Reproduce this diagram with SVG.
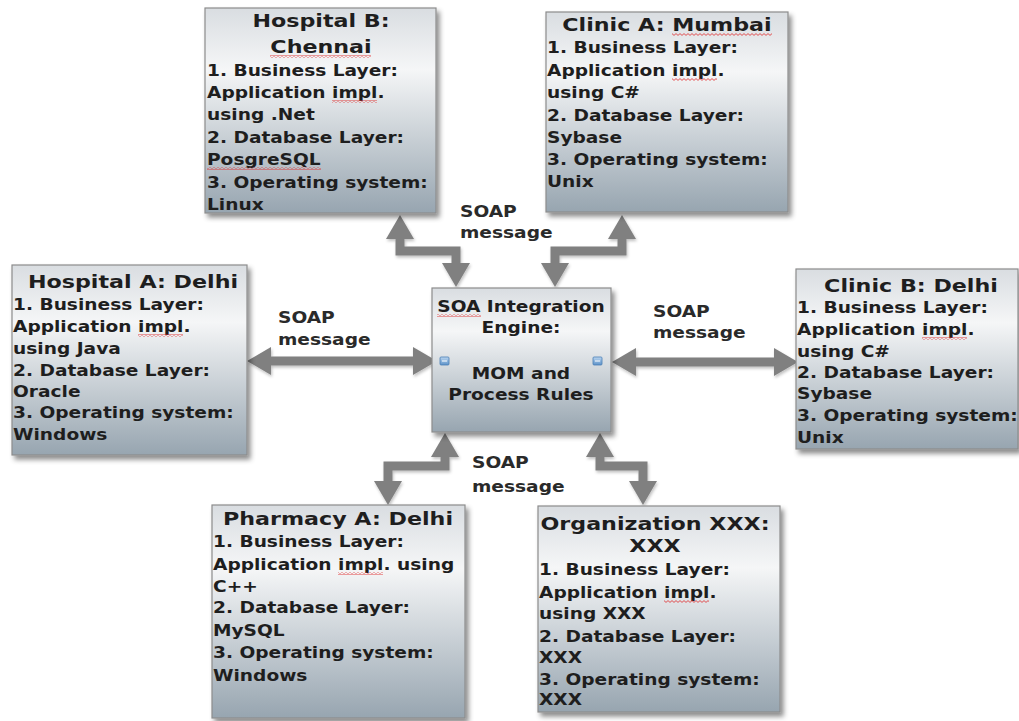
<svg xmlns="http://www.w3.org/2000/svg" width="1019" height="721" viewBox="0 0 1019 721">
<defs>
<style>
.box{fill:url(#bg);stroke:#8c8c8c;stroke-width:1.2;filter:url(#sh)}
.tt{font-family:"DejaVu Sans",Verdana,sans-serif;font-weight:bold;font-size:18.5px;fill:#1e1e1e;text-anchor:middle}
.bd{font-family:"DejaVu Sans",Verdana,sans-serif;font-weight:bold;font-size:15.5px;fill:#1e1e1e}
.lbl{font-family:"DejaVu Sans",Verdana,sans-serif;font-weight:bold;font-size:15.5px;fill:#2a2a2a}
.con{fill:none;stroke:#808080;stroke-width:9;stroke-linejoin:miter;marker-start:url(#ah);marker-end:url(#ah)}
.sq{fill:url(#sqp)}
.pin{fill:url(#pg);stroke:#4a7fb5;stroke-width:0.8}
</style>
<linearGradient id="bg" x1="0" y1="0" x2="0" y2="1">
<stop offset="0" stop-color="#d9dde1"/>
<stop offset="0.3" stop-color="#f5f6f7"/>
<stop offset="1" stop-color="#97a5b0"/>
</linearGradient>
<linearGradient id="pg" x1="0" y1="0" x2="0" y2="1">
<stop offset="0" stop-color="#bcd6f0"/>
<stop offset="1" stop-color="#5d92c9"/>
</linearGradient>
<filter id="sh" x="-10%" y="-10%" width="125%" height="125%">
<feGaussianBlur in="SourceAlpha" stdDeviation="2.5"/>
<feOffset dx="3" dy="4" result="b"/>
<feFlood flood-color="#000" flood-opacity="0.45"/>
<feComposite in2="b" operator="in"/>
<feMerge><feMergeNode/><feMergeNode in="SourceGraphic"/></feMerge>
</filter>
<filter id="csh" filterUnits="userSpaceOnUse" x="0" y="0" width="1019" height="721">
<feGaussianBlur in="SourceAlpha" stdDeviation="1.5"/>
<feOffset dx="1" dy="2" result="b"/>
<feFlood flood-color="#000" flood-opacity="0.25"/>
<feComposite in2="b" operator="in"/>
<feMerge><feMergeNode/><feMergeNode in="SourceGraphic"/></feMerge>
</filter>
<marker id="ah" markerUnits="userSpaceOnUse" markerWidth="24" markerHeight="28" viewBox="0 0 24 28" refX="0" refY="14" orient="auto-start-reverse">
<path d="M0,0 L24,14 L0,28 Z" fill="#808080"/>
</marker>
<pattern id="sqp" width="4" height="3" patternUnits="userSpaceOnUse">
<path d="M0,0.6 L2,2.4 L4,0.6" fill="none" stroke="#e02828" stroke-width="0.8"/>
</pattern>
</defs>
<rect width="1019" height="721" fill="#ffffff"/>

<g id="connectors" filter="url(#csh)">
<path class="con" d="M400,239 V251 H456 V263"/>
<path class="con" d="M622,239 V251 H555 V263"/>
<path class="con" d="M271,361 H413"/>
<path class="con" d="M636,362 H774"/>
<path class="con" d="M445,457 V466 H388 V481"/>
<path class="con" d="M600,457 V466 H643 V481"/>
</g>

<g id="labels">
<g transform="translate(460 0) scale(1.2 1)"><text class="lbl"><tspan x="0" y="217">SOAP</tspan><tspan x="0" y="238">message</tspan></text></g>
<g transform="translate(278 0) scale(1.2 1)"><text class="lbl"><tspan x="0" y="323">SOAP</tspan><tspan x="0" y="345">message</tspan></text></g>
<g transform="translate(653 0) scale(1.2 1)"><text class="lbl"><tspan x="0" y="317">SOAP</tspan><tspan x="0" y="338">message</tspan></text></g>
<g transform="translate(472 0) scale(1.2 1)"><text class="lbl"><tspan x="0" y="468">SOAP</tspan><tspan x="0" y="492">message</tspan></text></g>
</g>

<g id="hospital-b">
<rect class="box" x="205" y="8" width="231" height="205"/>
<g transform="translate(321 0) scale(1.2 1)"><text class="tt"><tspan x="0" y="27">Hospital B:</tspan><tspan x="0" y="53">Chennai</tspan></text></g>
<g transform="translate(207 0) scale(1.2 1)"><text class="bd"><tspan x="0" y="76">1. Business Layer:</tspan><tspan x="0" y="98">Application impl.</tspan><tspan x="0" y="120">using .Net</tspan><tspan x="0" y="143">2. Database Layer:</tspan><tspan x="0" y="165">PosgreSQL</tspan><tspan x="0" y="188">3. Operating system:</tspan><tspan x="0" y="210">Linux</tspan></text></g>
<rect class="sq" x="270" y="55" width="101" height="3"/>
<rect class="sq" x="332" y="100" width="45" height="3"/>
<rect class="sq" x="207" y="167" width="114" height="3"/>
</g>

<g id="clinic-a">
<rect class="box" x="546" y="12" width="242" height="200"/>
<g transform="translate(667 0) scale(1.2 1)"><text class="tt" x="0" y="31">Clinic A: Mumbai</text></g>
<g transform="translate(547 0) scale(1.2 1)"><text class="bd"><tspan x="0" y="53">1. Business Layer:</tspan><tspan x="0" y="76">Application impl.</tspan><tspan x="0" y="98">using C#</tspan><tspan x="0" y="121">2. Database Layer:</tspan><tspan x="0" y="143">Sybase</tspan><tspan x="0" y="165">3. Operating system:</tspan><tspan x="0" y="187">Unix</tspan></text></g>
<rect class="sq" x="672" y="33" width="100" height="3"/>
<rect class="sq" x="672" y="78" width="45" height="3"/>
</g>

<g id="hospital-a">
<rect class="box" x="12" y="265" width="235" height="190"/>
<g transform="translate(133 0) scale(1.2 1)"><text class="tt" x="0" y="288">Hospital A: Delhi</text></g>
<g transform="translate(13 0) scale(1.2 1)"><text class="bd"><tspan x="0" y="310">1. Business Layer:</tspan><tspan x="0" y="332">Application impl.</tspan><tspan x="0" y="354">using Java</tspan><tspan x="0" y="376">2. Database Layer:</tspan><tspan x="0" y="397">Oracle</tspan><tspan x="0" y="418">3. Operating system:</tspan><tspan x="0" y="440">Windows</tspan></text></g>
<rect class="sq" x="138" y="334" width="45" height="3"/>
</g>

<g id="clinic-b">
<rect class="box" x="796" y="269" width="222" height="180"/>
<g transform="translate(911 0) scale(1.2 1)"><text class="tt" x="0" y="292">Clinic B: Delhi</text></g>
<g transform="translate(797 0) scale(1.2 1)"><text class="bd"><tspan x="0" y="313">1. Business Layer:</tspan><tspan x="0" y="335">Application impl.</tspan><tspan x="0" y="357">using C#</tspan><tspan x="0" y="378">2. Database Layer:</tspan><tspan x="0" y="399">Sybase</tspan><tspan x="0" y="421">3. Operating system:</tspan><tspan x="0" y="443">Unix</tspan></text></g>
<rect class="sq" x="922" y="337" width="45" height="3"/>
</g>

<g id="soa-engine">
<rect class="box" x="432" y="288" width="179" height="144"/>
<g transform="translate(521 0) scale(1.2 1)"><text class="tt" style="font-size:15.5px"><tspan x="0" y="312">SOA Integration</tspan><tspan x="0" y="333">Engine:</tspan><tspan x="0" y="379">MOM and</tspan><tspan x="0" y="400">Process Rules</tspan></text></g>
<rect class="sq" x="437" y="314" width="44" height="3"/>
<rect class="pin" x="440" y="357" width="9" height="8" rx="1"/>
<rect class="pin" x="593" y="357" width="9" height="8" rx="1"/>
<path d="M442,361 H447 M595,361 H600" stroke="#ffffff" stroke-width="1"/>
</g>

<g id="pharmacy-a">
<rect class="box" x="212" y="505" width="253" height="213"/>
<g transform="translate(338 0) scale(1.2 1)"><text class="tt" x="0" y="525">Pharmacy A: Delhi</text></g>
<g transform="translate(213 0) scale(1.2 1)"><text class="bd"><tspan x="0" y="547">1. Business Layer:</tspan><tspan x="0" y="570">Application impl. using</tspan><tspan x="0" y="592">C++</tspan><tspan x="0" y="613">2. Database Layer:</tspan><tspan x="0" y="636">MySQL</tspan><tspan x="0" y="658">3. Operating system:</tspan><tspan x="0" y="681">Windows</tspan></text></g>
<rect class="sq" x="338" y="572" width="45" height="3"/>
</g>

<g id="organization-xxx">
<rect class="box" x="538" y="506" width="242" height="206"/>
<g transform="translate(655 0) scale(1.2 1)"><text class="tt"><tspan x="0" y="530">Organization XXX:</tspan><tspan x="0" y="552">XXX</tspan></text></g>
<g transform="translate(539 0) scale(1.2 1)"><text class="bd"><tspan x="0" y="575">1. Business Layer:</tspan><tspan x="0" y="598">Application impl.</tspan><tspan x="0" y="619">using XXX</tspan><tspan x="0" y="642">2. Database Layer:</tspan><tspan x="0" y="663">XXX</tspan><tspan x="0" y="685">3. Operating system:</tspan><tspan x="0" y="705">XXX</tspan></text></g>
<rect class="sq" x="664" y="600" width="45" height="3"/>
</g>
</svg>
